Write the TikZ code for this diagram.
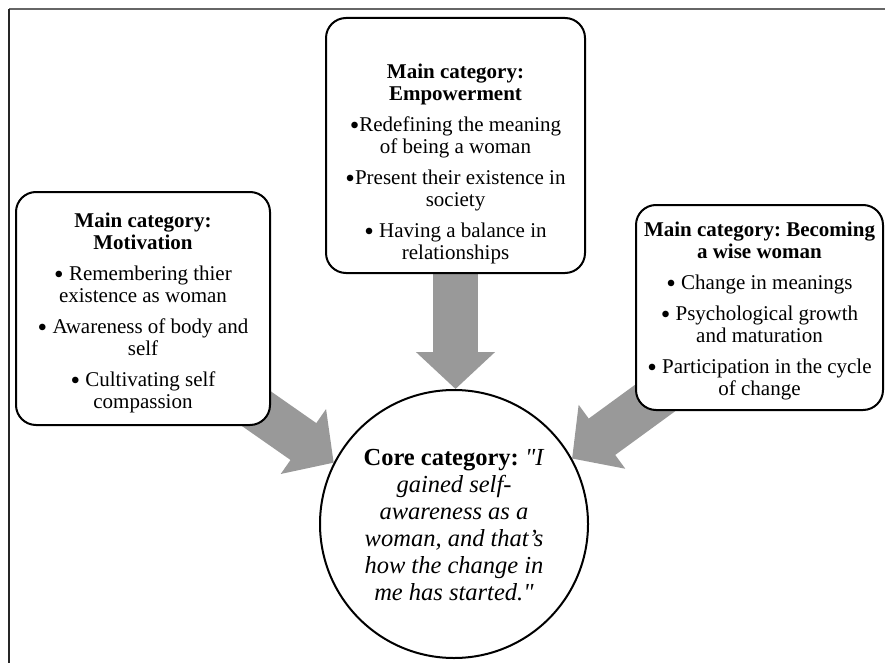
\documentclass[tikz,border=0pt]{standalone}
\usepackage{fontspec}
\setmainfont{Liberation Serif}[Ligatures=TeXOff]
\usetikzlibrary{arrows.meta,backgrounds}
\definecolor{arrowgray}{RGB}{153,153,153}
\definecolor{framegray}{RGB}{102,102,102}
\frenchspacing
\newcommand{\bul}{\raisebox{-0.14em}{\scalebox{1.3}{\textbullet}}}
\begin{document}
\begin{tikzpicture}[x=1pt,y=-1pt,
  catbox/.style={draw=black, line width=2pt, rounded corners=20pt, fill=white, inner sep=0pt},
  cattext/.style={anchor=north, align=center, inner sep=0pt, font=\fontsize{21}{22}\selectfont},
  coretext/.style={anchor=north, align=center, inner sep=0pt, font=\fontsize{24.5}{27}\selectfont},
  fatarrow/.style={arrowgray, line width=45pt, -{Triangle[width=77pt,length=37pt]}},
]
\useasboundingbox (0,0) rectangle (885,663);
% frame
\coordinate (fTL) at (9,9);
\coordinate (fTR) at (885,9);
\coordinate (fBL) at (9,663);
\draw[framegray, line width=2pt] (fTL) -- (fTR);
\draw[black!85, line width=2pt] (fTL) -- (fBL);

% core circle
\node[circle, draw=black, line width=2pt, minimum size=268pt, inner sep=0pt, fill=white] (core) at (454,524) {};

% boxes
\node[catbox, minimum width=259pt, minimum height=255pt] (top) at (455.5,145.5) {};
\node[catbox, minimum width=254pt, minimum height=233pt] (left) at (143,308.5) {};
\node[catbox, minimum width=247pt, minimum height=205pt] (right) at (759.5,307.5) {};

% arrow start points (hidden under boxes)
\coordinate (la) at (201,370);
\coordinate (ra) at (699,366);

% arrows (behind boxes)
\begin{scope}[on background layer]
\draw[fatarrow] (top.south) -- (top.south |- core.north);
\draw[fatarrow] (la) -- (core.153);
\draw[fatarrow] (ra) -- (core.29);
\end{scope}

% texts
\node[cattext] (toptext) at (455.5,63.5) {\textbf{Main category:}\\
\textbf{Empowerment}\\[9pt]
\bul Redefining the meaning\\
of being a woman\\[9pt]
\bul Present their existence in\\
society\\[9pt]
\bul{} Having a balance in\\
relationships};

\node[cattext] (lefttext) at (143,212.5) {\textbf{Main category:}\\
\textbf{Motivation}\\[9pt]
\bul{} Remembering thier\\
existence as woman\\[9pt]
\bul{} Awareness of body and\\
self\\[9pt]
\bul{} Cultivating self\\
compassion};

\node[cattext] (righttext) at (759.5,221.5) {\textbf{Main category: Becoming}\\
\textbf{a wise woman}\\[9pt]
\bul{} Change in meanings\\[9pt]
\bul{} Psychological growth\\
and maturation\\[9pt]
\bul{} Participation in the cycle\\
of change};

\node[coretext] (coretxt) at (454,449) {\textbf{Core category:} \textit{"I}\\
\textit{gained self-}\\
\textit{awareness as a}\\
\textit{woman, and that’s}\\
\textit{how the change in}\\
\textit{me has started."}};
\end{tikzpicture}
\end{document}
